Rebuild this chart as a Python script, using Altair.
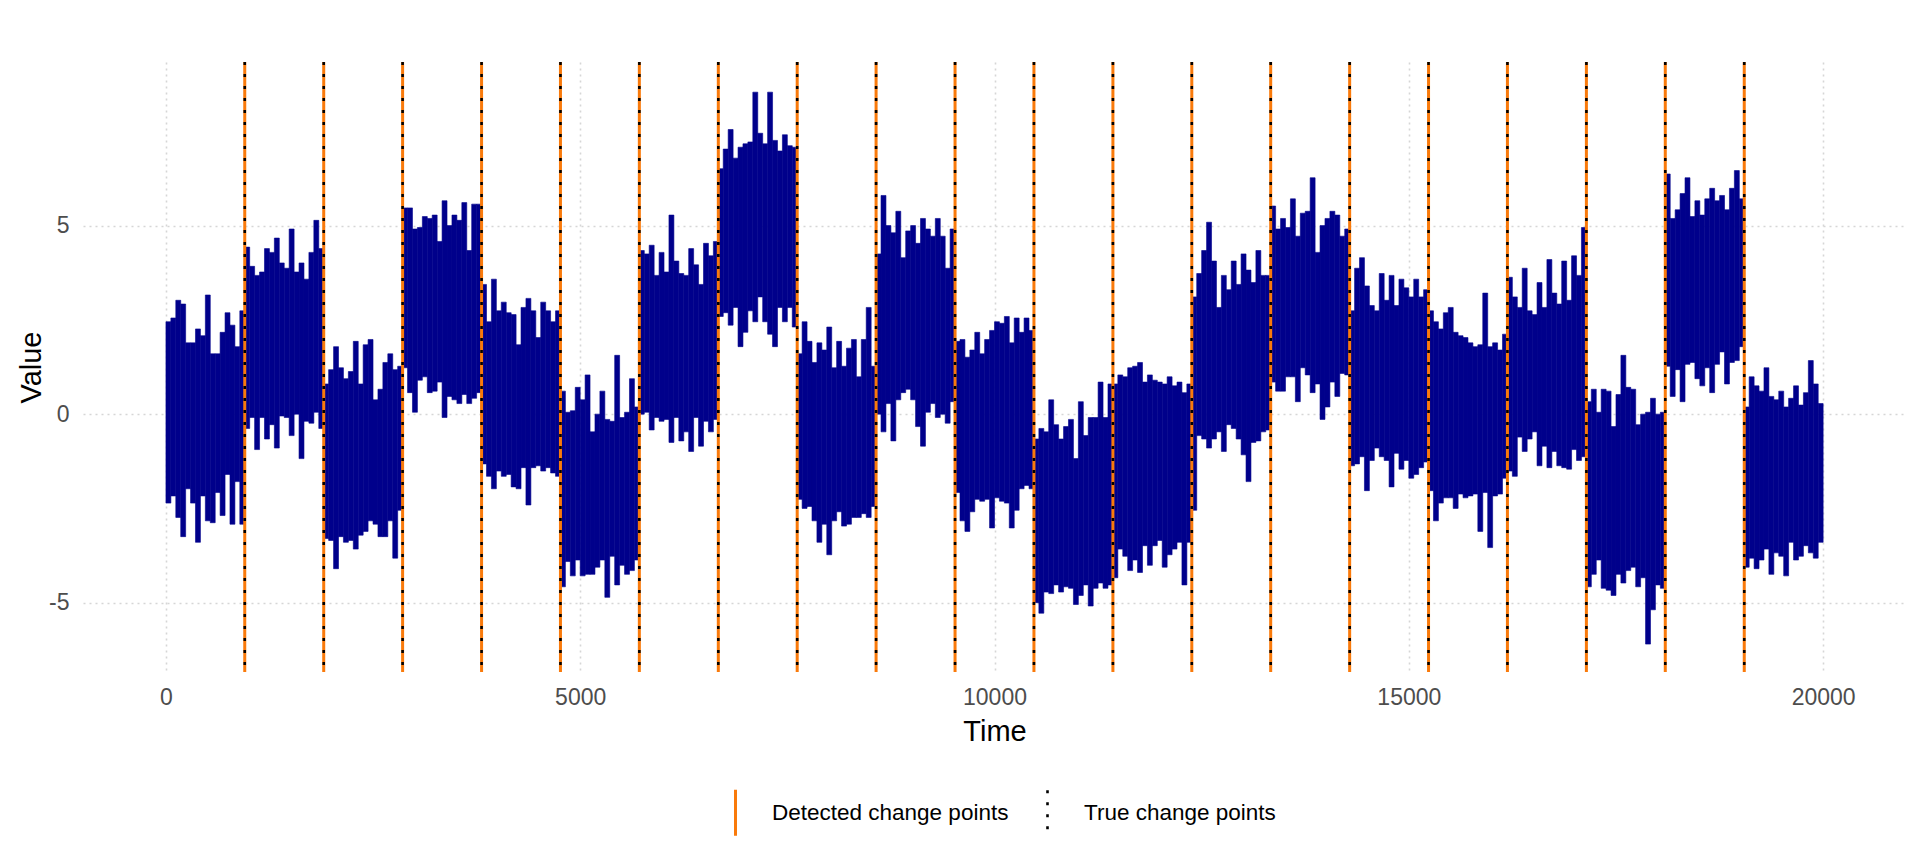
import altair as alt
import pandas as pd

# ---- data ----
series_start = 1
series_end = 20000

true_change_points = [952, 1905, 2857, 3810, 4762, 5714, 6667, 7619, 8571, 9524,
                      10476, 11429, 12381, 13333, 14286, 15238, 16190, 17143, 18095, 19048]
detected_change_points = [952, 1905, 2857, 3810, 4762, 5714, 6667, 7619, 8571, 9524,
                          10476, 11429, 12381, 13333, 14286, 15238, 16190, 17143, 18095, 19048]

# upper / lower envelope of the noisy signal, 16 slices per segment
upper = [
    [2.45, 2.55, 3.02, 2.92, 1.89, 1.89, 2.26, 2.08, 3.16, 1.60, 1.60, 2.17, 2.69, 2.36, 1.79, 2.74],
    [4.43, 3.92, 3.68, 3.77, 4.39, 4.29, 4.67, 4.01, 3.87, 4.91, 3.77, 4.01, 3.58, 4.29, 5.14, 4.39],
    [0.80, 1.18, 1.79, 1.23, 0.94, 1.13, 1.93, 0.80, 1.84, 1.98, 0.38, 0.66, 1.37, 1.60, 1.18, 1.27],
    [5.47, 5.47, 4.91, 4.95, 5.24, 5.19, 5.28, 4.58, 5.66, 5.00, 5.28, 5.14, 5.61, 4.34, 5.57, 5.57],
    [3.44, 2.45, 3.58, 2.74, 2.97, 2.69, 2.64, 1.84, 2.83, 3.07, 2.74, 2.03, 2.97, 2.74, 2.45, 2.74],
    [0.61, 0.05, 0.09, 0.71, 0.38, 1.04, -0.47, 0.00, 0.61, -0.14, -0.19, 1.56, -0.09, 0.05, 0.94, 0.19],
    [4.34, 4.25, 4.48, 3.68, 4.29, 3.77, 5.28, 4.06, 3.73, 3.68, 4.39, 3.96, 3.44, 4.53, 4.20, 4.58],
    [6.51, 7.03, 7.55, 6.79, 7.08, 7.17, 7.22, 8.54, 7.45, 7.17, 8.54, 7.26, 6.98, 7.41, 7.12, 7.08],
    [1.60, 2.45, 1.93, 1.37, 1.89, 1.70, 2.31, 1.23, 1.93, 1.27, 1.75, 1.98, 0.99, 1.98, 2.83, 1.27],
    [4.25, 5.80, 5.00, 4.81, 5.38, 4.15, 4.86, 5.00, 4.53, 5.19, 4.91, 4.72, 5.19, 4.72, 3.87, 4.91],
    [1.93, 1.98, 1.51, 1.70, 2.17, 1.60, 1.98, 2.22, 2.45, 2.41, 2.59, 1.89, 2.55, 2.17, 2.55, 2.22],
    [-0.66, -0.38, -0.47, 0.38, -0.28, -0.66, -0.33, -0.14, -1.18, 0.33, -0.57, -0.09, -0.09, 0.85, -0.09, 0.80],
    [0.80, 1.04, 0.99, 1.23, 1.27, 1.37, 0.85, 1.04, 0.90, 0.85, 0.80, 0.99, 0.75, 0.85, 0.57, 0.80],
    [3.11, 3.73, 4.34, 5.09, 4.06, 2.83, 3.68, 3.30, 4.06, 3.44, 4.25, 3.82, 3.49, 4.34, 3.68, 3.68],
    [5.52, 4.91, 5.19, 4.95, 5.71, 4.72, 5.33, 5.38, 6.27, 4.29, 5.00, 5.19, 5.38, 5.28, 4.72, 4.91],
    [2.74, 3.87, 4.15, 3.40, 2.88, 2.74, 3.73, 3.02, 3.68, 2.88, 3.58, 3.35, 3.11, 3.58, 3.11, 3.30],
    [2.74, 2.45, 2.26, 2.69, 2.83, 2.17, 2.08, 2.03, 1.89, 1.79, 1.84, 3.21, 1.79, 1.89, 1.70, 2.12],
    [3.63, 3.11, 2.83, 3.87, 2.74, 2.64, 3.49, 2.83, 4.10, 3.21, 2.92, 4.06, 3.02, 4.20, 3.68, 4.95],
    [0.33, 0.66, 0.05, 0.66, 0.61, -0.33, 0.52, 1.56, 0.71, 0.66, -0.28, 0.00, 0.05, 0.42, 0.00, 0.05],
    [6.37, 5.19, 5.42, 5.85, 6.27, 5.24, 5.66, 5.28, 5.71, 5.99, 5.66, 5.80, 5.42, 5.99, 6.46, 5.71],
    [0.19, 0.99, 0.75, 0.61, 1.23, 0.47, 0.38, 0.61, 0.19, 0.42, 0.75, 0.24, 0.57, 1.42, 0.80, 0.28],
]
lower = [
    [-2.36, -2.17, -2.74, -3.25, -1.98, -2.36, -3.40, -2.17, -2.83, -2.88, -2.08, -2.69, -1.60, -2.92, -1.79, -2.92],
    [-0.38, -0.09, -0.94, -0.09, -0.66, -0.28, -0.90, -0.05, -0.09, -0.57, 0.00, -1.18, -0.19, -0.24, 0.05, -0.38],
    [-3.30, -3.35, -4.10, -3.25, -3.40, -3.35, -3.58, -3.21, -3.11, -2.83, -2.92, -3.25, -3.25, -2.83, -3.82, -2.55],
    [1.23, 0.57, 0.05, 0.90, 0.99, 0.57, 0.61, 0.85, -0.09, 0.47, 0.38, 0.28, 0.52, 0.28, 0.42, 0.57],
    [-1.32, -1.65, -1.98, -1.51, -1.65, -1.60, -1.93, -1.98, -1.42, -2.41, -1.42, -1.37, -1.51, -1.42, -1.56, -1.65],
    [-4.58, -3.91, -4.29, -3.87, -4.29, -4.25, -4.25, -4.06, -3.87, -4.86, -3.77, -4.53, -4.01, -4.25, -4.15, -3.87],
    [0.00, 0.05, -0.42, -0.09, -0.19, -0.14, -0.75, -0.09, -0.71, -0.47, -0.99, -0.09, -0.85, -0.19, -0.47, -0.14],
    [2.59, 2.69, 2.36, 2.83, 1.79, 2.17, 2.74, 2.45, 3.11, 2.45, 2.12, 1.79, 2.83, 2.45, 2.83, 2.31],
    [-2.26, -2.50, -2.45, -2.83, -3.40, -2.92, -3.73, -2.83, -2.59, -2.97, -2.92, -2.74, -2.74, -2.64, -2.74, -2.45],
    [0.00, -0.47, 0.28, -0.71, 0.38, 0.57, 0.66, 0.38, -0.33, -0.85, 0.05, 0.28, -0.09, 0.00, -0.24, 0.33],
    [-2.08, -2.83, -3.11, -2.59, -2.26, -2.31, -2.26, -3.02, -2.22, -2.31, -2.36, -3.02, -2.55, -1.98, -1.89, -1.98],
    [-5.00, -5.28, -4.72, -4.76, -4.53, -4.72, -4.58, -4.62, -5.05, -4.81, -4.53, -5.09, -4.62, -4.48, -4.62, -4.53],
    [-4.34, -3.58, -3.77, -4.15, -3.87, -4.20, -3.49, -4.01, -3.49, -3.35, -4.06, -3.73, -3.58, -3.40, -4.53, -3.40],
    [-2.55, -0.57, -0.66, -0.90, -0.66, -0.47, -0.99, -0.28, -0.38, -0.66, -1.08, -1.79, -0.75, -0.71, -0.47, -0.42],
    [0.85, 0.61, 0.61, 0.99, 0.99, 0.33, 1.23, 1.04, 0.57, 0.80, -0.14, 0.19, 0.85, 0.47, 1.08, 1.04],
    [-1.37, -1.32, -1.13, -2.03, -1.23, -0.90, -1.13, -1.23, -1.93, -1.04, -1.46, -1.23, -1.70, -1.60, -1.42, -1.27],
    [-2.03, -2.83, -2.36, -2.22, -2.22, -2.50, -2.12, -2.22, -2.17, -2.12, -3.11, -2.08, -3.54, -2.17, -2.12, -1.70],
    [-1.51, -1.65, -0.61, -0.99, -0.66, -0.47, -1.37, -0.85, -1.42, -0.99, -1.37, -1.42, -1.46, -0.94, -1.23, -1.13],
    [-4.58, -4.25, -3.87, -4.62, -4.67, -4.81, -4.25, -4.48, -4.15, -4.06, -4.58, -4.34, -6.10, -5.19, -4.53, -4.62],
    [1.27, 0.47, 1.18, 0.33, 1.32, 1.37, 0.94, 0.75, 1.23, 0.57, 1.32, 1.65, 0.80, 1.37, 1.42, 1.79],
    [-4.06, -3.82, -4.10, -3.87, -3.58, -4.25, -3.68, -3.77, -4.29, -3.40, -3.87, -3.77, -3.49, -3.68, -3.82, -3.40],
]

x_ticks = [0, 5000, 10000, 15000, 20000]
y_ticks = [-5, 0, 5]
legend_labels = ["Detected change points", "True change points"]

# ---- tables ----
bounds = [series_start] + true_change_points + [series_end]
rows = []
for s in range(len(upper)):
    a, b = bounds[s], bounds[s + 1]
    n = len(upper[s])
    w = (b - a) / n
    for i in range(n):
        rows.append({"t0": a + i * w, "t1": a + (i + 1) * w,
                     "lo": lower[s][i], "hi": upper[s][i]})
signal = pd.DataFrame(rows)

cp = pd.DataFrame(
    [{"time": t, "type": legend_labels[0]} for t in detected_change_points]
    + [{"time": t, "type": legend_labels[1]} for t in true_change_points]
)

FONT = "Liberation Sans"
NAVY = "#00008B"
ORANGE = "#F97A0B"

xscale = alt.Scale(domain=[-1000, 21000], nice=False, zero=False)
yscale = alt.Scale(domain=[-6.84, 9.34], nice=False, zero=False)

sig = alt.Chart(signal).mark_rect(color=NAVY, stroke=NAVY, strokeWidth=0.6).encode(
    x=alt.X("t0:Q", scale=xscale,
            axis=alt.Axis(values=x_ticks, labelExpr="'' + datum.value", title="Time")),
    x2="t1:Q",
    y=alt.Y("lo:Q", scale=yscale,
            axis=alt.Axis(values=y_ticks, labelExpr="'' + datum.value", title="Value")),
    y2="hi:Q",
)

leg = alt.Legend(
    title=None, orient="none", direction="horizontal",
    legendX=628, legendY=726,
    symbolType="M0,-1L0,1", symbolSize=2116, symbolStrokeWidth=3,
    labelFontSize=22.5, labelFont=FONT, labelColor="black", labelLimit=0,
    labelOffset=12, columnPadding=14, padding=0,
)

rules = alt.Chart(cp).mark_rule().encode(
    x=alt.X("time:Q", scale=xscale),
    color=alt.Color("type:N", scale=alt.Scale(domain=legend_labels, range=[ORANGE, "#000000"]),
                    legend=leg),
    strokeDash=alt.StrokeDash("type:N", scale=alt.Scale(domain=legend_labels, range=[[1, 0], [3, 9]]),
                              legend=leg),
    strokeWidth=alt.StrokeWidth("type:N", scale=alt.Scale(domain=legend_labels, range=[3, 2.6]),
                                legend=None),
)

chart = alt.layer(sig, rules).properties(
    width=1823, height=610,
    autosize=alt.AutoSizeParams(type="none"),
    padding={"left": 75, "top": 54, "right": 6, "bottom": 184},
    background="white",
).configure_view(stroke=None).configure_axis(
    grid=True, gridColor="#D6D6D6", gridDash=[2, 4], gridWidth=1.6,
    domain=False, ticks=False, tickSize=0,
    labelFont=FONT, labelFontSize=23, labelColor="#4D4D4D",
    titleFont=FONT, titleFontSize=29, titleColor="black", titleFontWeight="normal",
).configure_axisX(labelPadding=14, titlePadding=8).configure_axisY(labelPadding=14, titlePadding=2)

chart.save("out.html", embed_options={"renderer": "svg", "actions": False})
